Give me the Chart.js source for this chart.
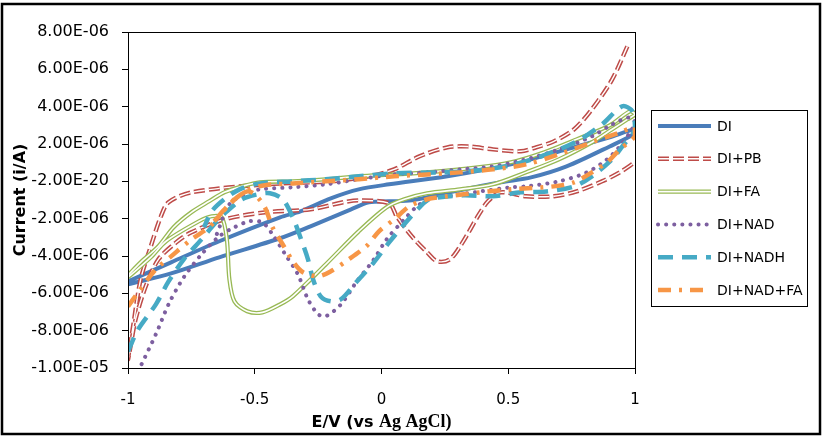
<!DOCTYPE html>
<html>
<head>
    <title>Cyclic voltammograms</title>
    <script src="https://cdn.jsdelivr.net/npm/chart.js"></script>
    <style>
        body { margin: 0; background: #fff; }
        canvas { display: block; }
    </style>
</head>
<body>
    <canvas id="cvChart" width="830" height="436"></canvas>
    <script>
        // potential (V vs Ag/AgCl) and current (in units of 1E-06 A)
        var diE = [-1.00,-0.83,-0.64,-0.40,-0.32,-0.20,-0.09,0.03,0.26,0.51,0.73,0.90,1.00,
                   1.00,0.90,0.73,0.59,0.47,0.27,0.12,0.03,-0.05,-0.12,-0.28,-0.40,-0.64,-0.83,-1.00];
        var diI = [-5.36,-4.34,-3.21,-1.93,-1.61,-0.91,-0.43,-0.16,0.27,0.91,1.71,2.36,2.79,
                   2.57,1.87,0.80,0.21,-0.05,-0.59,-1.02,-1.07,-1.12,-1.50,-2.41,-3.05,-4.07,-4.93,-5.52];

        var pbE = [0.97,0.91,0.83,0.76,0.68,0.61,0.55,0.44,0.34,0.26,0.15,0.05,-0.05,-0.20,-0.46,-0.75,-0.84,-0.87,-0.91,-0.95,
                   -0.98,-1.00,-0.99,-0.97,-0.93,-0.88,-0.81,-0.75,-0.62,-0.46,-0.28,-0.15,-0.09,0.03,0.06,0.12,0.18,0.22,0.27,0.32,
                   0.38,0.42,0.47,0.57,0.68,0.77,0.87,0.94,1.00];
        var pbI = [7.23,5.46,3.86,2.79,2.14,1.82,1.61,1.71,1.87,1.82,1.34,0.64,0.27,0.00,-0.16,-0.59,-1.12,-1.87,-3.48,-5.25,
                   -7.77,-9.53,-8.84,-7.39,-5.62,-4.18,-3.27,-2.73,-2.04,-1.66,-1.50,-1.12,-1.02,-1.18,-1.87,-2.95,-3.80,-4.29,-4.18,-3.27,
                   -1.87,-1.07,-0.59,-0.80,-0.80,-0.54,0.00,0.48,1.02];

        var faE = [-1.00,-0.91,-0.85,-0.72,-0.67,-0.63,-0.61,-0.60,-0.58,-0.53,-0.47,-0.40,-0.35,-0.22,-0.09,0.02,0.09,0.18,0.31,0.44,
                   0.57,0.70,0.83,0.91,0.97,1.00,
                   0.98,0.90,0.77,0.64,0.51,0.38,0.18,0.05,-0.09,-0.22,-0.35,-0.48,-0.55,-0.62,-0.68,-0.75,-0.82,-0.88,-0.95,-1.00];
        var faI = [-5.14,-4.07,-3.21,-2.14,-1.87,-1.93,-3.11,-5.25,-6.43,-6.96,-7.02,-6.59,-6.16,-4.45,-2.68,-1.39,-0.96,-0.64,-0.43,-0.16,
                   0.48,1.18,2.09,2.79,3.32,3.59,
                   3.75,3.00,2.25,1.55,1.02,0.75,0.48,0.37,0.27,0.11,0.00,-0.05,-0.27,-0.59,-1.07,-1.66,-2.46,-3.48,-4.34,-5.03];

        var nadE = [-0.96,-0.89,-0.84,-0.78,-0.71,-0.64,-0.58,-0.52,-0.47,-0.43,-0.38,-0.33,-0.29,-0.25,-0.22,-0.16,-0.10,-0.03,0.02,0.09,
                    0.14,0.19,0.26,0.39,0.51,0.57,0.70,0.81,0.89,0.94,0.98,1.00,
                    0.98,0.91,0.83,0.70,0.57,0.44,0.31,0.18,0.05,-0.09,-0.22,-0.35,-0.48,-0.54,-0.60,-0.65];
        var nadI = [-10.18,-8.19,-6.59,-5.14,-3.91,-2.95,-2.46,-2.14,-2.20,-2.84,-3.91,-4.98,-6.32,-7.12,-7.23,-6.59,-5.41,-4.18,-3.11,-2.04,
                    -1.34,-0.96,-0.80,-0.54,-0.32,-0.27,0.00,0.48,1.18,1.87,2.62,3.16,
                    3.43,3.05,2.41,1.71,1.18,0.80,0.64,0.48,0.37,0.11,-0.16,-0.32,-0.43,-0.70,-1.23,-2.84];

        var nadhE = [-1.00,-0.96,-0.89,-0.84,-0.78,-0.71,-0.66,-0.61,-0.55,-0.49,-0.44,-0.39,-0.35,-0.32,-0.29,-0.27,-0.24,-0.20,-0.16,-0.10,
                     -0.03,0.03,0.10,0.15,0.19,0.32,0.44,0.55,0.65,0.76,0.83,0.91,0.95,1.00,
                     0.99,0.95,0.87,0.77,0.64,0.51,0.38,0.24,0.05,-0.09,-0.22,-0.35,-0.48,-0.56,-0.62,-0.67,-0.70];
        var nadhI = [-9.11,-7.93,-6.59,-5.36,-4.18,-3.11,-2.30,-1.61,-0.96,-0.70,-0.64,-0.96,-1.93,-3.00,-4.18,-5.25,-6.16,-6.43,-6.32,-5.41,
                     -4.34,-3.27,-2.14,-1.39,-0.96,-0.75,-0.80,-0.59,-0.54,-0.27,0.27,1.18,1.87,2.79,
                     3.75,4.02,3.05,2.14,1.39,0.86,0.59,0.48,0.43,0.27,0.11,0.00,-0.11,-0.43,-0.96,-1.61,-2.46];

        var nadfaE = [-1.00,-0.96,-0.89,-0.83,-0.75,-0.68,-0.63,-0.58,-0.53,-0.50,-0.46,-0.43,-0.39,-0.35,-0.31,-0.25,-0.20,-0.14,-0.06,-0.01,
                      0.05,0.11,0.18,0.26,0.39,0.51,0.68,0.76,0.83,0.89,0.94,1.00,
                      1.00,0.94,0.83,0.70,0.57,0.44,0.31,0.18,0.05,-0.09,-0.22,-0.35,-0.46,-0.52,-0.57,-0.61,-0.66];
        var nadfaI = [-6.70,-5.95,-4.71,-4.02,-3.11,-2.46,-1.66,-0.96,-0.54,-0.70,-1.39,-2.46,-3.37,-4.28,-4.87,-5.09,-4.82,-4.28,-3.48,-2.68,
                      -2.04,-1.34,-0.96,-0.80,-0.59,-0.43,-0.27,-0.05,0.48,1.02,1.71,2.41,
                      2.89,2.62,2.09,1.45,0.91,0.64,0.48,0.37,0.27,0.11,0.00,-0.11,-0.21,-0.43,-0.86,-1.39,-2.14];

        var seriesNames = ['DI', 'DI+PB', 'DI+FA', 'DI+NAD', 'DI+NADH', 'DI+NAD+FA'];
        var xTickLabels = ['-1', '-0.5', '0', '0.5', '1'];
        var yTickLabels = ['-1.00E-05', '-8.00E-06', '-6.00E-06', '-4.00E-06', '-2.00E-06',
                           '-2.00E-20', '2.00E-06', '4.00E-06', '6.00E-06', '8.00E-06'];

        function pts(e, i) {
            return e.map(function(v, k) { return { x: v, y: i[k] }; });
        }

        // line looks, also used for the legend samples
        var looks = [
            { color: '#4A7DBA', width: 4, dash: [] },
            { color: '#BE4B48', width: 4.4, dash: [11, 4], inner: 1.4 },
            { color: '#98B954', width: 4.2, dash: [], inner: 1.6 },
            { color: '#7D5FA0', width: 4, dash: [0.1, 8], cap: 'round' },
            { color: '#46AAC5', width: 4.5, dash: [15, 9] },
            { color: '#F79646', width: 4.5, dash: [13, 8, 3, 8] }
        ];
        var values = [[diE, diI], [pbE, pbI], [faE, faI], [nadE, nadI], [nadhE, nadhI], [nadfaE, nadfaI]];

        var datasets = [];
        values.forEach(function(v, k) {
            var lk = looks[k];
            datasets.push({
                label: seriesNames[k],
                data: pts(v[0], v[1]),
                borderColor: lk.color,
                borderWidth: lk.width,
                borderDash: lk.dash,
                borderCapStyle: lk.cap || 'butt',
                order: 10 - k * 1.5
            });
            if (lk.inner) {
                // white core gives the double (compound) line
                datasets.push({
                    label: '',
                    data: pts(v[0], v[1]),
                    borderColor: '#fff',
                    borderWidth: lk.inner,
                    borderDash: lk.dash,
                    order: 10 - k * 1.5 - 0.5
                });
            }
        });

        var frame = {
            id: 'frame',
            afterDraw: function(chart) {
                var ctx = chart.ctx, a = chart.chartArea;
                ctx.save();
                ctx.strokeStyle = '#000';
                ctx.lineWidth = 1;
                ctx.setLineDash([]);
                ctx.strokeRect(a.left + 0.5, a.top + 0.5, a.right - a.left, a.bottom - a.top);
                ctx.lineWidth = 2.5;
                ctx.strokeRect(2, 4, 818, 430);

                // legend box
                ctx.lineWidth = 1;
                ctx.strokeRect(651.5, 110.5, 156, 196);
                ctx.font = '14px "DejaVu Sans"';
                ctx.fillStyle = '#000';
                ctx.textBaseline = 'middle';
                ctx.textAlign = 'left';
                seriesNames.forEach(function(name, k) {
                    var lk = looks[k];
                    var y = 126 + k * 32.8;
                    ctx.beginPath();
                    ctx.moveTo(658, y);
                    ctx.lineTo(711, y);
                    ctx.strokeStyle = lk.color;
                    ctx.lineWidth = lk.width;
                    ctx.lineCap = lk.cap || 'butt';
                    ctx.setLineDash(lk.dash);
                    ctx.stroke();
                    if (lk.inner) {
                        ctx.strokeStyle = '#fff';
                        ctx.lineWidth = lk.inner;
                        ctx.stroke();
                    }
                    ctx.fillText(name, 717, y + 1);
                });

                // x axis title, mixed fonts as in the original
                var p1 = 'E/V (vs ', p2 = 'Ag AgCl)';
                ctx.font = 'bold 16px "DejaVu Sans"';
                var w1 = ctx.measureText(p1).width;
                ctx.font = 'bold 18px "Liberation Serif"';
                var w2 = ctx.measureText(p2).width;
                var x0 = (a.left + a.right) / 2 - (w1 + w2) / 2;
                ctx.textBaseline = 'alphabetic';
                ctx.font = 'bold 16px "DejaVu Sans"';
                ctx.fillText(p1, x0, 427);
                ctx.font = 'bold 18px "Liberation Serif"';
                ctx.fillText(p2, x0 + w1, 427);
                ctx.restore();
            }
        };

        Chart.defaults.font.family = 'DejaVu Sans';
        Chart.defaults.color = '#000';

        var ctx = document.getElementById('cvChart').getContext('2d');
        var cvChart = new Chart(ctx, {
            type: 'scatter',
            data: { datasets: datasets },
            options: {
                responsive: false,
                animation: false,
                devicePixelRatio: 1,
                showLine: true,
                layout: { padding: { top: 32, right: 195, left: 0, bottom: 0 } },
                elements: {
                    point: { radius: 0, hoverRadius: 0 },
                    line: { tension: 0.3, fill: false }
                },
                scales: {
                    x: {
                        type: 'linear',
                        min: -1,
                        max: 1,
                        ticks: {
                            stepSize: 0.5,
                            maxRotation: 0,
                            padding: 17,
                            font: { size: 15 },
                            callback: function(v, i) { return xTickLabels[i]; }
                        },
                        grid: { drawOnChartArea: false, tickLength: 6, color: '#000' },
                        border: { color: '#000' },
                        afterFit: function(s) { s.height = 68; }
                    },
                    y: {
                        min: -10,
                        max: 8,
                        ticks: {
                            stepSize: 2,
                            padding: 13,
                            font: { size: 16 },
                            callback: function(v, i) { return yTickLabels[i]; }
                        },
                        grid: { drawOnChartArea: false, tickLength: 6, color: '#000' },
                        border: { color: '#000' },
                        title: {
                            display: true,
                            text: 'Current (i/A)',
                            font: { size: 16, weight: 'bold' },
                            padding: { top: 11, bottom: 0 }
                        },
                        afterFit: function(s) { s.width = 128; }
                    }
                },
                plugins: {
                    legend: { display: false },
                    tooltip: { enabled: false }
                }
            },
            plugins: [frame]
        });
    </script>
</body>
</html>
